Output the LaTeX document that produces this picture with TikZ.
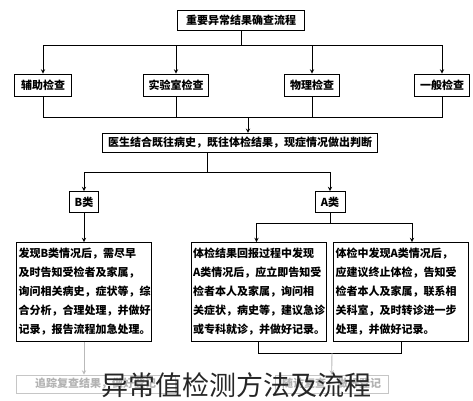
\documentclass[tikz,border=0pt]{standalone}
\usepackage{fontspec}
\setmainfont{Noto Sans CJK SC}
\tikzset{
  box/.style={draw, rectangle, line width=0.9pt, inner sep=2pt, font=\fontsize{11}{13}\selectfont\bfseries},
  textbox/.style={box, align=left, text width=131pt, minimum height=99pt, font=\fontsize{11}{19}\selectfont\bfseries},
  fadebox/.style={draw=gray!45, rectangle, line width=0.8pt, text=gray!60, minimum height=18pt, font=\fontsize{11}{13}\selectfont\bfseries},
  arrow/.style={->, >=stealth, line width=0.9pt},
  line/.style={line width=0.9pt}
}
\begin{document}
\begin{tikzpicture}[x=1pt, y=-1pt]
		\useasboundingbox (0,0) rectangle (473,400);
		% Nodes
		\node[box, minimum width=127pt, minimum height=20pt] (title) at (241,20) {重要异常结果确查流程};
		\node[box, minimum width=57pt, minimum height=22pt] (fuzhu) at (43,85) {辅助检查};
		\node[box, minimum width=65pt, minimum height=22pt] (shiyan) at (176,85) {实验室检查};
		\node[box, minimum width=55pt, minimum height=22pt] (wuli) at (312,85) {物理检查};
		\node[box, minimum width=55pt, minimum height=22pt] (yiban) at (442,85) {一般检查};
		\node[box, line width=1.3pt, minimum width=275pt, minimum height=19pt] (judge) at (240,143) {医生结合既往病史，既往体检结果，现症情况做出判断};
		\node[box, minimum width=29pt, minimum height=21pt] (bclass) at (84,202) {B类};
		\node[box, minimum width=30pt, minimum height=21pt] (aclass) at (330,202) {A类};
		\node[textbox] (bbox) at (84,292) {发现B类情况后，需尽早\\及时告知受检者及家属，\\询问相关病史，症状等，综\\合分析，合理处理，并做好\\记录，报告流程加急处理。};
		\node[textbox] (amid) at (258.5,292) {体检结果回报过程中发现\\A类情况后，应立即告知受\\检者本人及家属，询问相\\关症状，病史等，建议急诊\\或专科就诊，并做好记录。};
		\node[textbox] (aright) at (401,292) {体检中发现A类情况后，\\应建议终止体检，告知受\\检者本人及家属，联系相\\关科室，及时转诊进一步\\处理，并做好记录。};
		\node[fadebox, minimum width=159pt] (bnext) at (95.5,384) {追踪复查结果，做好登记};
		\node[fadebox, minimum width=113pt] (anext) at (331.5,384) {随访复查，做好登记};
		% Junctions
		\coordinate (split) at (241,45);
		\coordinate (merge) at (248,117);
		\coordinate (ab) at (207,172);
		\coordinate (asplit) at (330,223);
		\coordinate (ajoin) at (332,353);
		% Arrows
		\draw[line] (title) -- (split);
		\draw[arrow] (split) -| (fuzhu);
		\draw[arrow] (split) -| (shiyan);
		\draw[arrow] (split) -| (wuli);
		\draw[arrow] (split) -| (yiban);
		\draw[line] (fuzhu) |- (merge);
		\draw[line] (shiyan) |- (merge);
		\draw[line] (wuli) |- (merge);
		\draw[line] (yiban) |- (merge);
		\draw[arrow] (merge) -- (merge |- judge.north);
		\draw[line] (judge.south -| ab) -- (ab);
		\draw[arrow] (ab) -| (bclass);
		\draw[arrow] (ab) -| (aclass);
		\draw[arrow] (bclass) -- (bbox);
		\draw[line] (aclass) -- (asplit);
		\draw[arrow] (asplit) -| ([xshift=-2pt]amid.north);
		\draw[arrow] (asplit) -| ([xshift=11pt]aright.north);
		\draw[line] (amid) |- (ajoin);
		\draw[line] (aright) |- (ajoin);
		\draw[arrow, gray!55] (ajoin) -- (anext);
		\draw[arrow, gray!55] (bbox) -- (bbox |- bnext.north);
		% Caption
		\node[font=\fontsize{27}{27}\selectfont, text=black!85] (mark) at (236,385) {异常值检测方法及流程};
	\end{tikzpicture}
\end{document}
